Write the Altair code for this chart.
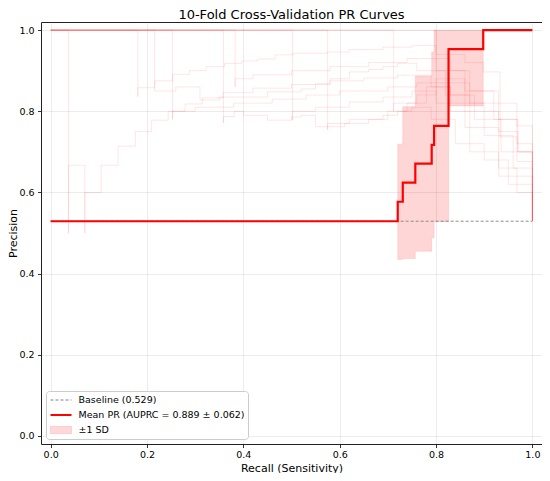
import altair as alt
import pandas as pd

TITLE = "10-Fold Cross-Validation PR Curves"
X_TITLE = "Recall (Sensitivity)"
Y_TITLE = "Precision"
TICKS = [0.0, 0.2, 0.4, 0.6, 0.8, 1.0]

BASELINE = 0.529
baseline_recall = [0.0, 1.0]

mean_recall = [0.0, 0.7205, 0.731, 0.757, 0.791, 0.796, 0.826, 0.898, 1.0]
mean_precision = [0.529, 0.577, 0.624, 0.671, 0.717, 0.764, 0.953, 1.0, 1.0]

sd_recall = [0.7205, 0.731, 0.757, 0.791, 0.796, 0.826, 0.898]
sd_lower = [0.435, 0.437, 0.455, 0.488, 0.528, 0.813, 1.0]
sd_upper = [0.719, 0.811, 0.887, 0.946, 1.0, 1.0, 1.0]

f1_r = [0, 0.037, 0.037, 0.071, 0.071, 0.105, 0.14, 0.176, 0.209, 0.244, 0.279, 0.315, 0.358, 0.42, 0.5, 0.58, 0.65, 0.72, 0.79, 0.83, 0.87, 0.93, 0.97, 1.0, 1.0]
f1_p = [1.0, 0.5, 0.667, 0.5, 0.6, 0.667, 0.714, 0.75, 0.778, 0.8, 0.818, 0.833, 0.846, 0.857, 0.866, 0.875, 0.882, 0.889, 0.86, 0.84, 0.80, 0.75, 0.70, 0.62, 0.53]
f2_r = [0, 0.181, 0.181, 0.216, 0.253, 0.288, 0.323, 0.361, 0.397, 0.43, 0.466, 0.503, 0.575, 0.62, 0.69, 0.75, 0.80, 0.86, 0.898, 0.933, 0.968, 1.0]
f2_p = [1.0, 0.836, 0.858, 0.875, 0.891, 0.9, 0.91, 0.918, 0.924, 0.929, 0.939, 0.943, 0.946, 0.952, 0.958, 0.962, 0.94, 0.92, 0.897, 0.82, 0.764, 0.53]
f3_r = [0, 0.216, 0.26, 0.31, 0.35, 0.45, 0.52, 0.55, 0.58, 0.62, 0.66, 0.69, 0.72, 0.76, 0.82, 0.87, 0.933, 0.968, 1.0]
f3_p = [1.0, 0.85, 0.86, 0.828, 0.835, 0.848, 0.855, 0.868, 0.88, 0.897, 0.903, 0.91, 0.918, 0.90, 0.87, 0.82, 0.737, 0.676, 0.53]
f4_r = [0, 0.359, 0.359, 0.381, 0.40, 0.45, 0.50, 0.52, 0.55, 0.61, 0.66, 0.69, 0.72, 0.75, 0.79, 0.84, 0.90, 0.95, 1.0, 1.0]
f4_p = [1.0, 0.771, 0.787, 0.80, 0.79, 0.778, 0.786, 0.79, 0.762, 0.77, 0.78, 0.79, 0.80, 0.81, 0.78, 0.72, 0.68, 0.62, 0.55, 0.53]
f5_r = [0, 0.253, 0.253, 0.30, 0.38, 0.46, 0.53, 0.60, 0.70, 0.76, 0.82, 0.88, 0.935, 1.0, 1.0]
f5_p = [1.0, 0.78, 0.80, 0.81, 0.82, 0.83, 0.84, 0.85, 0.86, 0.87, 0.84, 0.78, 0.70, 0.60, 0.53]
f6_r = [0, 0.502, 0.502, 0.55, 0.62, 0.69, 0.75, 0.80, 0.86, 0.93, 0.968, 1.0]
f6_p = [1.0, 0.778, 0.80, 0.81, 0.823, 0.835, 0.85, 0.82, 0.76, 0.66, 0.60, 0.53]
f7_r = [0, 0.575, 0.575, 0.62, 0.70, 0.74, 0.78, 0.83, 0.87, 0.93, 1.0, 1.0]
f7_p = [1.0, 0.754, 0.77, 0.78, 0.80, 0.82, 0.86, 0.80, 0.70, 0.64, 0.577, 0.53]
f8_r = [0, 0.712, 0.712, 0.76, 0.80, 0.86, 0.90, 0.96, 1.0]
f8_p = [1.0, 0.80, 0.82, 0.84, 0.88, 0.82, 0.74, 0.66, 0.53]
f9_r = [0, 0.80, 0.83, 0.87, 0.93, 0.97, 1.0]
f9_p = [1.0, 0.93, 0.90, 0.85, 0.78, 0.70, 0.53]
f10_r = [0, 0.383, 0.383, 0.42, 0.50, 0.58, 0.66, 0.74, 0.80, 0.86, 0.92, 0.968, 1.0]
f10_p = [1.0, 0.86, 0.88, 0.89, 0.90, 0.91, 0.92, 0.93, 0.90, 0.85, 0.78, 0.72, 0.53]

LEGEND_LABELS = ["Baseline (0.529)", "Mean PR (AUPRC = 0.889 \u00b1 0.062)", "\u00b11 SD"]

folds = [(f1_r, f1_p), (f2_r, f2_p), (f3_r, f3_p), (f4_r, f4_p), (f5_r, f5_p),
         (f6_r, f6_p), (f7_r, f7_p), (f8_r, f8_p), (f9_r, f9_p), (f10_r, f10_p)]
rows = []
for k, (rr, pp) in enumerate(folds, 1):
    for i, (a, b) in enumerate(zip(rr, pp)):
        rows.append({"fold": k, "i": i, "recall": a, "precision": b})
fold_df = pd.DataFrame(rows)

mean_df = pd.DataFrame({"recall": mean_recall, "precision": mean_precision})
sd_df = pd.DataFrame({"recall": sd_recall, "lo": sd_lower, "hi": sd_upper})
base_df = pd.DataFrame({"recall": baseline_recall, "precision": [BASELINE] * len(baseline_recall)})
leg_df = pd.DataFrame({"series": LEGEND_LABELS})

xs = alt.Scale(domain=[-0.02, 1.02], nice=False, zero=False)
ys = alt.Scale(domain=[-0.02, 1.02], nice=False, zero=False)
x_axis = alt.Axis(values=TICKS, format=".1f", title=X_TITLE, labelPadding=2, titlePadding=3)
y_axis = alt.Axis(values=TICKS, format=".1f", title=Y_TITLE, labelPadding=3.5, titlePadding=0)
x_enc = alt.X("recall:Q", scale=xs, axis=x_axis)
y_enc = alt.Y("precision:Q", scale=ys, axis=y_axis)

fold_layer = alt.Chart(fold_df).mark_line(
    interpolate="step-after", color="#ff0000", strokeOpacity=0.1, strokeWidth=1
).encode(x=x_enc, y=y_enc, detail="fold:N", order="i:Q")

band_layer = alt.Chart(sd_df).mark_area(
    interpolate="step-after", color="#ff0000", fillOpacity=0.16,
    stroke="#ff0000", strokeOpacity=0.1, strokeWidth=1
).encode(x=x_enc, y=alt.Y("lo:Q", scale=ys, axis=y_axis), y2="hi:Q")

base_layer = alt.Chart(base_df).mark_line(
    color="#808080", strokeDash=[3, 2], strokeWidth=1, opacity=0.9
).encode(x=x_enc, y=y_enc)

mean_layer = alt.Chart(mean_df).mark_line(
    interpolate="step-after", color="#ff0000", strokeWidth=2.2
).encode(x=x_enc, y=y_enc)

line_path = "M-1,0L3.2,0"
rect_path = "M-1,-0.7L3.2,-0.7L3.2,0.7L-1,0.7Z"
leg = alt.Legend(title=None)
legend_layer = alt.Chart(leg_df).transform_filter("false").mark_point(
    filled=True, opacity=1
).encode(
    shape=alt.Shape("series:N", scale=alt.Scale(domain=LEGEND_LABELS, range=[line_path, line_path, rect_path]), legend=leg),
    fill=alt.Fill("series:N", scale=alt.Scale(domain=LEGEND_LABELS, range=["transparent", "transparent", "#ffd9d9"]), legend=leg),
    stroke=alt.Stroke("series:N", scale=alt.Scale(domain=LEGEND_LABELS, range=["#808080", "#ff0000", "#ffc4c4"]), legend=leg),
    strokeDash=alt.StrokeDash("series:N", scale=alt.Scale(domain=LEGEND_LABELS, range=[[3, 2], [1, 0], [1, 0]]), legend=leg),
    strokeWidth=alt.StrokeWidth("series:N", scale=alt.Scale(type="ordinal", domain=LEGEND_LABELS, range=[1, 2, 1]), legend=leg),
)

chart = alt.layer(fold_layer, band_layer, base_layer, mean_layer, legend_layer).properties(
    title=TITLE,
    width=501,
    height=422,
    autosize=alt.AutoSizeParams(type="none"),
    padding={"left": 33, "top": 14, "right": 0, "bottom": 29},
).configure_view(
    stroke="#222222", strokeWidth=1
).configure_axis(
    domain=False, tickColor="black", tickSize=3.5, tickWidth=0.8,
    labelFont="DejaVu Sans", labelFontSize=9.5, labelColor="black",
    titleFont="DejaVu Sans", titleFontSize=11, titleFontWeight="normal", titleColor="black",
    gridColor="#b0b0b0", gridOpacity=0.3, gridWidth=0.8,
).configure_title(
    font="DejaVu Sans", fontSize=13, fontWeight="normal", color="black",
    offset=0.5, anchor="middle"
).configure_legend(
    orient="bottom-left", offset=5, padding=3.5, fillColor="white", strokeColor="#cccccc",
    cornerRadius=3, labelFont="DejaVu Sans", labelFontSize=9.5, labelColor="black",
    symbolSize=100, rowPadding=4.5, labelOffset=17, symbolOpacity=1, labelLimit=400,
)

chart.save("out.html", embed_options={"renderer": "svg", "actions": False})
